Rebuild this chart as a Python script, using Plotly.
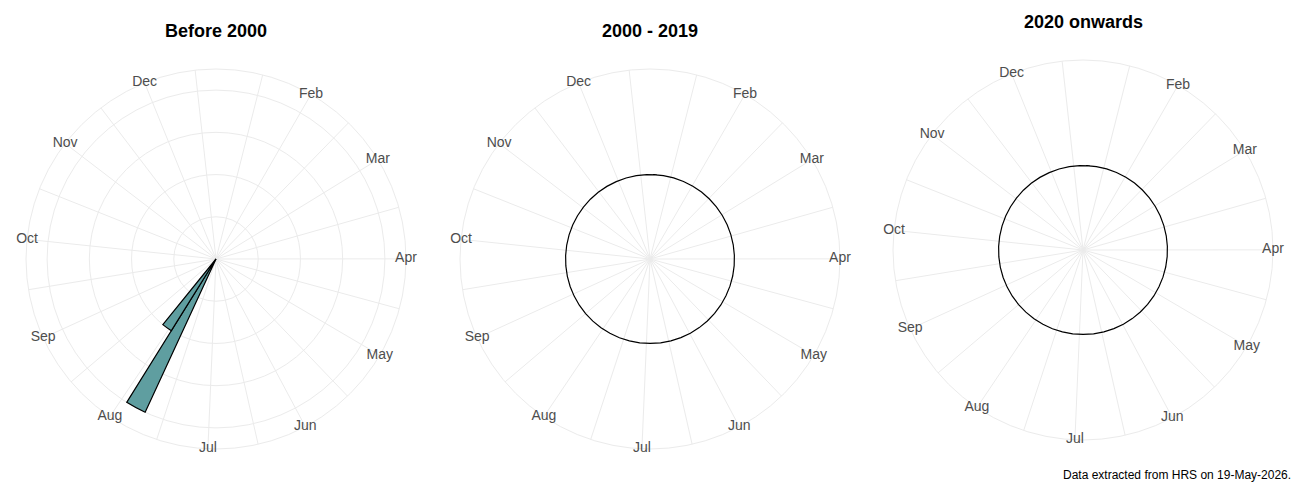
import plotly.graph_objects as go

# === Data ===
periods = ["Before 2000", "2000 - 2019", "2020 onwards"]
months = ["Jan", "Feb", "Mar", "Apr", "May", "Jun", "Jul", "Aug", "Sep", "Oct", "Nov", "Dec"]
month_start_day = [0, 31, 59, 90, 120, 151, 181, 212, 243, 273, 304, 334]  # days since 1 Jan
week_start_day = list(range(0, 364, 7))  # weekly bins

# weekly event counts, only weeks with events listed (week start day -> count)
events_before_2000 = {203: 4, 210: 2}
events_2000_2019 = {}
events_2020_on = {}

caption = "Data extracted from HRS on 19-May-2026."

# === Angle mapping (day of year -> degrees around the dial) ===
day0, span = 1.5, 354.2


def to_deg(day):
    return (day - day0) * 360 / span


week_theta = [to_deg(d + 3.5) for d in week_start_day]
month_theta = [to_deg(d) for d in month_start_day]
minor_theta = [to_deg((a + b) / 2) for a, b in zip(month_start_day, month_start_day[1:] + [365])]

# Jan sits just outside the scale limits, so it is not drawn
label_months = months[1:]
label_theta = month_theta[1:]

font = "Liberation Sans, Arial, sans-serif"
grid = "#ebebeb"

panels = [
    dict(name="polar", counts=events_before_2000, rng=[0, 4.5], rticks=[1, 2, 3, 4],
         x=[26 / 1300, 406 / 1300], y=[51 / 500, 431 / 500], tx=216, ty=31),
    dict(name="polar2", counts=events_2000_2019, rng=[-0.4, 0.5], rticks=[],
         x=[460 / 1300, 840 / 1300], y=[51 / 500, 431 / 500], tx=650, ty=31),
    dict(name="polar3", counts=events_2020_on, rng=[-0.4, 0.5], rticks=[],
         x=[893 / 1300, 1273 / 1300], y=[60 / 500, 440 / 500], tx=1083, ty=22),
]

fig = go.Figure()
layout = {}
annotations = []

for title, p in zip(periods, panels):
    counts = [p["counts"].get(d, 0) for d in week_start_day]
    sub = p["name"]

    bar_days = [d for d in week_start_day if p["counts"].get(d, 0) > 0]
    if bar_days:
        fig.add_trace(go.Barpolar(
            r=[p["counts"][d] for d in bar_days],
            theta=[to_deg(d + 3.5) for d in bar_days],
            width=[7 * 360 / span] * len(bar_days),
            marker=dict(color="#5F9EA0", line=dict(color="black", width=1.2)),
            subplot=sub, showlegend=False))
    else:
        # no events: only the zero baseline of the weekly bars shows (black outline)
        fig.add_trace(go.Scatterpolar(
            r=counts + counts[:1], theta=week_theta + week_theta[:1],
            mode="lines", line=dict(color="black", width=1.2),
            subplot=sub, showlegend=False, hoverinfo="skip"))

    # month labels sitting on the outer ring
    fig.add_trace(go.Scatterpolar(
        r=[p["rng"][1]] * len(label_months), theta=label_theta, text=label_months,
        mode="text", textfont=dict(family=font, size=14, color="#4d4d4d"),
        cliponaxis=False, subplot=sub, showlegend=False, hoverinfo="skip"))

    layout[sub] = dict(
        domain=dict(x=p["x"], y=p["y"]),
        bgcolor="white",
        bargap=0,
        angularaxis=dict(
            thetaunit="degrees", rotation=90, direction="clockwise",
            tickmode="array", tickvals=month_theta[1:] + minor_theta,
            showticklabels=False, ticks="", gridcolor=grid, gridwidth=1,
            showline=True, linecolor=grid, linewidth=1, layer="below traces"),
        radialaxis=dict(
            range=p["rng"], tickmode="array", tickvals=p["rticks"],
            showticklabels=False, ticks="", showline=False, layer="below traces",
            showgrid=bool(p["rticks"]), gridcolor=grid, gridwidth=1))

    annotations.append(dict(
        text="<b>" + title + "</b>", x=p["tx"] / 1300, y=1 - p["ty"] / 500,
        xref="paper", yref="paper", xanchor="center", yanchor="middle",
        showarrow=False, font=dict(family=font, size=18, color="black")))

annotations.append(dict(
    text=caption, x=1293 / 1300, y=1 - 475 / 500, xref="paper", yref="paper",
    xanchor="right", yanchor="middle", showarrow=False,
    font=dict(family=font, size=12, color="black")))

fig.update_layout(
    width=1300, height=500,
    margin=dict(l=0, r=0, t=0, b=0),
    paper_bgcolor="white",
    annotations=annotations,
    **layout)

# drop the page margin so the figure fills the window exactly
fig.write_html("out.html", config={"displayModeBar": False},
               post_script="document.body.style.margin = '0';")
